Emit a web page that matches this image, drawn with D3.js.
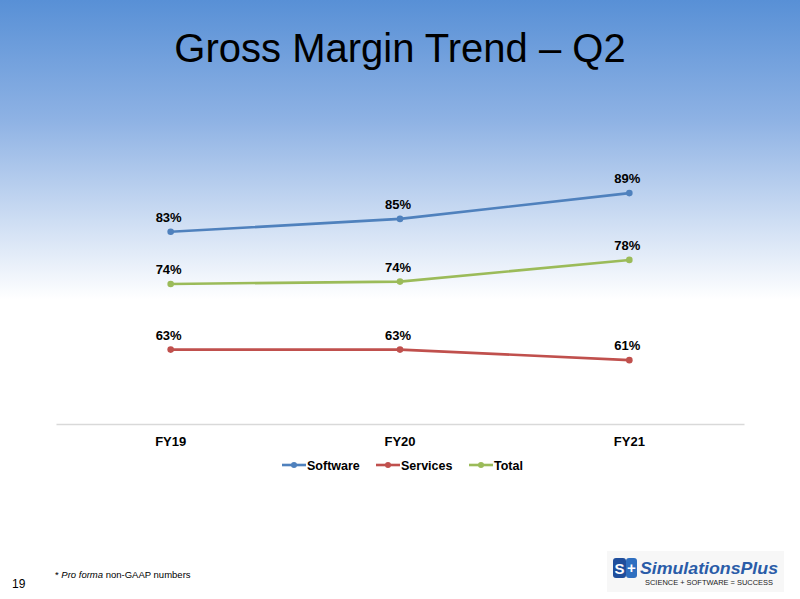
<!DOCTYPE html>
<html><head><meta charset="utf-8">
<script src="https://cdn.jsdelivr.net/npm/d3@7/dist/d3.min.js"></script>
<style>html,body{margin:0;padding:0;overflow:hidden;background:#fff}svg{display:block}</style>
</head><body>
<script>
const categories = ["FY19", "FY20", "FY21"];
const seriesNames = ["Software", "Services", "Total"];
const software = [82.8, 85.0, 89.4];
const services = [62.7, 62.7, 60.9];
const total = [73.9, 74.3, 78.0];
const seriesColors = ["#4f81bd", "#c0504d", "#9bbb59"];

const W = 800, H = 599;
const svg = d3.select("body").append("svg").attr("width", W).attr("height", H);
const defs = svg.append("defs");
const g = defs.append("linearGradient").attr("id", "bg").attr("x1", 0).attr("y1", 0).attr("x2", 0).attr("y2", 1);
g.append("stop").attr("offset", "0").attr("stop-color", "#5890d6");
g.append("stop").attr("offset", "0.2").attr("stop-color", "#8eb2e4");
g.append("stop").attr("offset", "0.5").attr("stop-color", "#ffffff");
g.append("stop").attr("offset", "1").attr("stop-color", "#ffffff");
svg.append("rect").attr("width", W).attr("height", H).attr("fill", "url(#bg)");

svg.append("text").attr("x", 400).attr("y", 62).attr("text-anchor", "middle")
  .attr("font-family", "Liberation Sans, Arial, sans-serif").attr("font-size", 40).attr("fill", "#000")
  .text("Gross Margin Trend \u2013 Q2");

const x = d3.scaleBand().domain(categories).range([56, 744]);
const y = d3.scaleLinear().domain([50, 100]).range([424, 131]);

// x axis
const xAxis = svg.append("g").attr("transform", "translate(0,424)")
  .call(d3.axisBottom(x).tickSize(0).tickPadding(10));
xAxis.select(".domain").attr("stroke", "#d9d9d9").attr("stroke-width", 1.3);
xAxis.selectAll("text").attr("font-family", "Liberation Sans, Arial, sans-serif")
  .attr("font-size", 13).attr("font-weight", "bold").attr("fill", "#000").attr("dy", "0.9em");

const data = [software, services, total].map((vals, i) => ({
  name: seriesNames[i], color: seriesColors[i],
  pts: vals.map((v, j) => ({cat: categories[j], v}))
}));

const line = d3.line().x(d => x(d.cat) + x.bandwidth() / 2).y(d => y(d.v));
const sg = svg.selectAll(".series").data(data).enter().append("g");
sg.append("path").attr("d", d => line(d.pts)).attr("fill", "none")
  .attr("stroke", d => d.color).attr("stroke-width", 2.6);
sg.selectAll("circle").data(d => d.pts.map(p => ({...p, color: d.color}))).enter().append("circle")
  .attr("cx", d => x(d.cat) + x.bandwidth() / 2).attr("cy", d => y(d.v)).attr("r", 3.3)
  .attr("fill", d => d.color);
sg.selectAll(".lbl").data(d => d.pts).enter().append("text")
  .attr("x", d => x(d.cat) + x.bandwidth() / 2 - 2).attr("y", d => y(d.v) - 10)
  .attr("text-anchor", "middle").attr("font-family", "Liberation Sans, Arial, sans-serif")
  .attr("font-size", 13).attr("font-weight", "bold").attr("fill", "#000")
  .text(d => Math.round(d.v) + "%");

// legend
const legX = [282, 376, 469];
const lg = svg.selectAll(".leg").data(data).enter().append("g")
  .attr("transform", (d, i) => `translate(${legX[i]},465)`);
lg.append("line").attr("x1", 0).attr("x2", 24).attr("y1", 0).attr("y2", 0)
  .attr("stroke", d => d.color).attr("stroke-width", 2.6);
lg.append("circle").attr("cx", 12).attr("cy", 0).attr("r", 3).attr("fill", d => d.color);
lg.append("text").attr("x", 25).attr("y", 4.5).attr("font-family", "Liberation Sans, Arial, sans-serif")
  .attr("font-size", 12.5).attr("font-weight", "bold").attr("fill", "#000").text(d => d.name);

// footer
svg.append("text").attr("x", 12).attr("y", 588).attr("font-family", "Liberation Sans, Arial, sans-serif")
  .attr("font-size", 12).attr("fill", "#000").text("19");
const fn = svg.append("text").attr("x", 55).attr("y", 578).attr("font-family", "Liberation Sans, Arial, sans-serif")
  .attr("font-size", 9.5).attr("fill", "#000");
fn.append("tspan").text("* ");
fn.append("tspan").attr("font-style", "italic").text("Pro forma");
fn.append("tspan").text(" non-GAAP numbers");

// logo
const logo = svg.append("g");
logo.append("rect").attr("x", 607).attr("y", 551).attr("width", 177).attr("height", 41).attr("fill", "#f7f7f7");
logo.append("rect").attr("x", 613).attr("y", 558).attr("width", 13).attr("height", 20).attr("rx", 3).attr("fill", "#1f4e9c");
logo.append("rect").attr("x", 626).attr("y", 558).attr("width", 11).attr("height", 20).attr("rx", 3).attr("fill", "#2f6fc0");
logo.append("text").attr("x", 619.5).attr("y", 573.5).attr("text-anchor", "middle").attr("font-family", "Liberation Sans, Arial, sans-serif")
  .attr("font-size", 15).attr("font-weight", "bold").attr("fill", "#fff").text("S");
logo.append("text").attr("x", 631.5).attr("y", 573).attr("text-anchor", "middle").attr("font-family", "Liberation Sans, Arial, sans-serif")
  .attr("font-size", 15).attr("font-weight", "bold").attr("fill", "#fff").text("+");
logo.append("text").attr("x", 640).attr("y", 574).attr("font-family", "Liberation Sans, Arial, sans-serif")
  .attr("font-size", 17).attr("font-weight", "bold").attr("font-style", "italic").attr("fill", "#2a5ca8")
  .attr("textLength", 138).attr("lengthAdjust", "spacingAndGlyphs").text("SimulationsPlus");
logo.append("text").attr("x", 645).attr("y", 584.5).attr("font-family", "Liberation Sans, Arial, sans-serif")
  .attr("font-size", 7.5).attr("fill", "#222")
  .attr("textLength", 128).attr("lengthAdjust", "spacingAndGlyphs").text("SCIENCE + SOFTWARE = SUCCESS");
</script>
</body></html>
